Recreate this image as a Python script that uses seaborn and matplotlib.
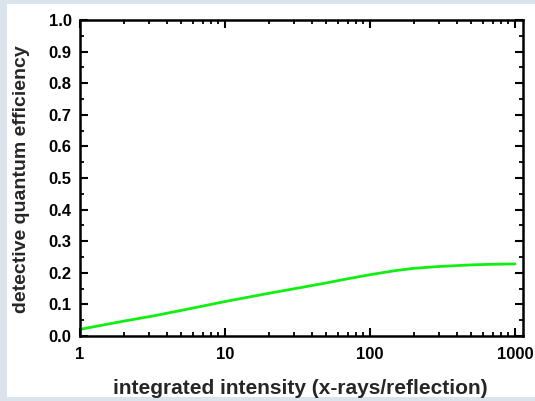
import numpy as np
import pandas as pd
import matplotlib
matplotlib.use("Agg")
import matplotlib.pyplot as plt
import seaborn as sns
from matplotlib.patches import Rectangle
from matplotlib.ticker import MultipleLocator, LogLocator, NullFormatter

# values
intensity = [1, 2, 3.16, 5, 10, 20, 35, 50, 70, 100, 150, 200, 300, 500, 700, 1000]
dqe = [0.021, 0.047, 0.063, 0.081, 0.109, 0.135, 0.155, 0.168, 0.181, 0.194,
       0.207, 0.214, 0.220, 0.225, 0.227, 0.228]
xticks = [1, 10, 100, 1000]
xtick_labels = ["1", "10", "100", "1000"]
yticks = [0.0, 0.1, 0.2, 0.3, 0.4, 0.5, 0.6, 0.7, 0.8, 0.9, 1.0]

df = pd.DataFrame({"intensity": intensity, "dqe": dqe})

sns.set_style("ticks")
plt.rcParams['font.family'] = ['Liberation Sans', 'DejaVu Sans']
plt.rcParams['font.weight'] = 'bold'

fig = plt.figure(figsize=(5.35, 4.01), dpi=100)
fig.patch.set_facecolor("#dbe3ec")
# white panel inside the light blue frame
fig.patches.append(Rectangle((7 / 535, 4 / 401), 1 - 7 / 535, 1 - 8 / 401,
                             transform=fig.transFigure, facecolor="white",
                             edgecolor="none", zorder=-5))

ax = fig.add_axes([80 / 535, 65 / 401, 443 / 535, 316 / 401])
ax.set_facecolor("white")

sns.lineplot(data=df, x="intensity", y="dqe", color="#11ee11", linewidth=2.0, ax=ax)

ax.set_xscale("log")
ax.set_xlim(1, 1135)
ax.set_ylim(0, 1.0)
ax.set_xticks(xticks)
ax.set_xticklabels(xtick_labels)
ax.xaxis.set_minor_locator(LogLocator(base=10, subs=np.arange(2, 10)))
ax.xaxis.set_minor_formatter(NullFormatter())
ax.set_yticks(yticks)
ax.set_yticklabels([f"{v:.1f}" for v in yticks])
ax.yaxis.set_minor_locator(MultipleLocator(0.05))

for s in ax.spines.values():
    s.set_visible(True)
    s.set_linewidth(1.8)
    s.set_color("black")

ax.tick_params(which="both", direction="in", top=True, right=True, colors="black")
ax.tick_params(which="major", length=5.5, width=1.5, labelsize=12, pad=6)
ax.tick_params(axis="x", which="major", pad=8)
ax.tick_params(which="minor", length=3, width=1.3)
for lab in ax.get_xticklabels() + ax.get_yticklabels():
    lab.set_fontweight("bold")

ax.set_xlabel("integrated intensity (x-rays/reflection)", fontsize=15, fontweight="bold")
ax.set_ylabel("detective quantum efficiency", fontsize=14, fontweight="bold")
ax.xaxis.set_label_coords(0.497, -0.137)
ax.yaxis.set_label_coords(-0.112, 0.497)

fig.savefig("out.png", dpi=100, facecolor=fig.get_facecolor())
